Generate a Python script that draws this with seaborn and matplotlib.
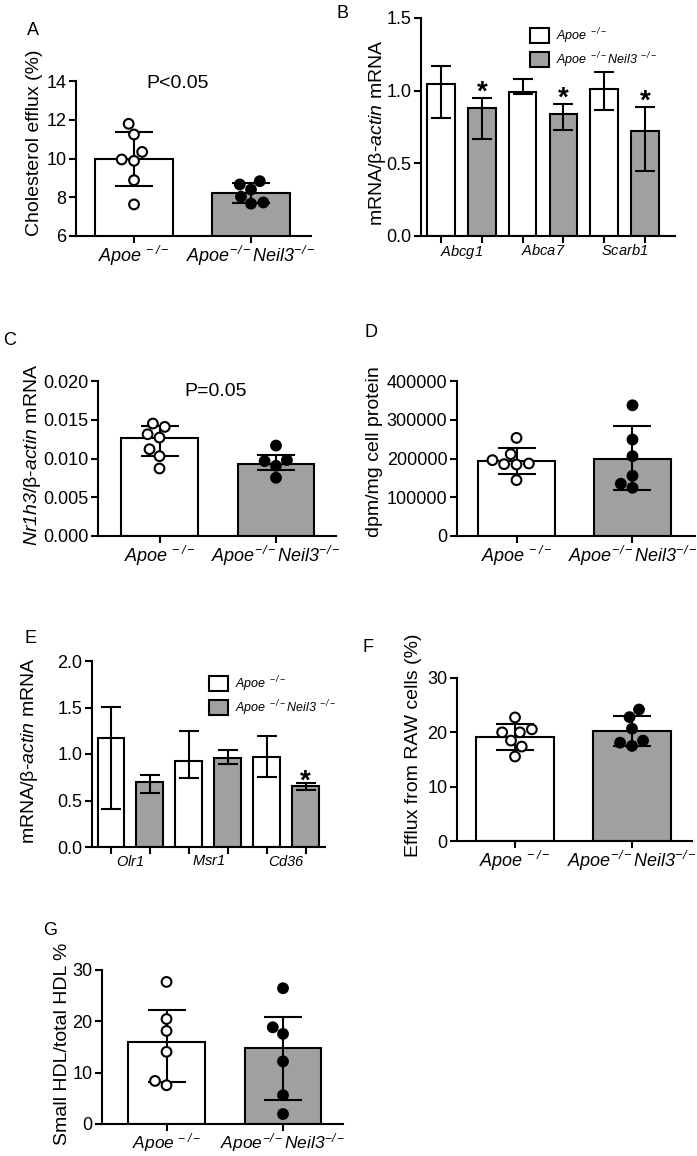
import matplotlib
matplotlib.use("Agg")
import matplotlib.pyplot as plt
import seaborn as sns
import pandas as pd
import numpy as np
from matplotlib.patches import Patch
from matplotlib.ticker import FormatStrFormatter

# ---------------- data ----------------
groups = ["wt", "ko"]
WT_LABEL = r"$\mathit{Apoe}^{\,-/-}$"
KO_LABEL = r"$\mathit{Apoe}^{-/-}\mathit{Neil3}^{-/-}$"
LEG_WT = r"$\mathit{Apoe}^{\ -/-}$"
LEG_KO = r"$\mathit{Apoe}^{\ -/-}\mathit{Neil3}^{\ -/-}$"

# A: cholesterol efflux (%)
a_mean = [9.95, 8.20]
a_lo = [8.58, 7.70]
a_hi = [11.37, 8.72]
a_pts_wt = [11.79, 11.24, 10.34, 9.88, 9.95, 8.88, 7.63]
a_pts_ko = [8.66, 8.83, 8.40, 8.03, 7.67, 7.73]

# B: transporter mRNA
b_genes = ["Abcg1", "Abca7", "Scarb1"]
b_wt_mean = [1.047, 0.992, 1.011]
b_wt_lo = [0.811, 0.974, 0.864]
b_wt_hi = [1.167, 1.082, 1.128]
b_ko_mean = [0.884, 0.841, 0.721]
b_ko_lo = [0.666, 0.726, 0.448]
b_ko_hi = [0.949, 0.905, 0.887]
b_stars = ["*", "*", "*"]

# C: Nr1h3 mRNA
c_mean = [0.01266, 0.00927]
c_lo = [0.0103, 0.0085]
c_hi = [0.01416, 0.01039]
c_pts_wt = [0.01451, 0.01408, 0.0127, 0.01313, 0.0112, 0.0103, 0.00871]
c_pts_ko = [0.01167, 0.00966, 0.00979, 0.00906, 0.00751]

# D: dpm/mg cell protein
d_mean = [193100, 200000]
d_lo = [160500, 118500]
d_hi = [227500, 283300]
d_pts_wt = [253200, 211200, 195700, 184500, 187100, 185400, 144200]
d_pts_ko = [337300, 248900, 206000, 155400, 124500, 134800]

# E: scavenger receptor mRNA
e_genes = ["Olr1", "Msr1", "Cd36"]
e_wt_mean = [1.173, 0.927, 0.970]
e_wt_lo = [0.404, 0.737, 0.748]
e_wt_hi = [1.506, 1.249, 1.191]
e_ko_mean = [0.701, 0.962, 0.658]
e_ko_lo = [0.576, 0.891, 0.612]
e_ko_hi = [0.773, 1.048, 0.690]
e_stars = ["", "", "*"]

# F: efflux from RAW cells (%)
f_mean = [19.21, 20.18]
f_lo = [16.77, 17.56]
f_hi = [21.59, 22.99]
f_pts_wt = [22.74, 20.55, 20.0, 20.0, 18.48, 17.38, 15.55]
f_pts_ko = [24.2, 22.8, 20.67, 18.48, 18.1, 17.5]

# G: small HDL / total HDL %
g_mean = [16.06, 14.71]
g_lo = [8.19, 4.77]
g_hi = [22.26, 20.77]
g_pts_wt = [27.68, 20.45, 18.13, 14.06, 7.55, 8.39]
g_pts_ko = [26.45, 18.84, 17.55, 12.19, 5.61, 1.94]

# ---------------- style ----------------
sns.set_style("ticks")
plt.rcParams.update({
    "font.family": ["Liberation Sans", "DejaVu Sans"],
    "mathtext.fontset": "custom",
    "mathtext.rm": "Liberation Sans:italic",
    "mathtext.it": "Liberation Sans:italic",
    "mathtext.bf": "Liberation Sans:bold",
    "axes.linewidth": 1.5,
    "axes.edgecolor": "black",
    "xtick.color": "black",
    "ytick.color": "black",
    "text.color": "black",
    "axes.labelcolor": "black",
})

GRAY = "#a0a0a0"
W, H = 697, 1156
fig = plt.figure(figsize=(W / 100, H / 100), dpi=100)
fig.patch.set_facecolor("white")


def add_ax(l, t, r, b):
    return fig.add_axes([l / W, 1 - b / H, (r - l) / W, (b - t) / H])


def style_axis(ax, ylim, yticks, fmt, ylabel, lab_xy):
    sns.despine(ax=ax)
    ax.set_ylim(*ylim)
    ax.set_yticks(yticks)
    if fmt:
        ax.yaxis.set_major_formatter(FormatStrFormatter(fmt))
    ax.tick_params(axis="y", direction="out", length=5, width=1.5, labelsize=13, pad=2)
    ax.set_ylabel(ylabel, fontsize=14, va="center")
    ax.yaxis.set_label_coords(*lab_xy)
    ax.set_xlabel("")
    ax.set_facecolor("white")


def two_group(ax, means, lo, hi, pts_wt, pts_ko, xlim, ylim, yticks, fmt, ylabel, lab_xy,
              capsize=14, xfs=13, xpad=1):
    df_bar = pd.DataFrame({"group": groups, "value": means})
    sns.barplot(data=df_bar, x="group", y="value", hue="group", order=groups, hue_order=groups,
                palette={"wt": "white", "ko": GRAY}, edgecolor="black", linewidth=1.5,
                width=0.66, errorbar=None, legend=False, saturation=1, ax=ax)
    centers = [p.get_x() + p.get_width() / 2 for p in ax.patches]
    m = np.array(means, float)
    yerr = [m - np.array(lo, float), np.array(hi, float) - m]
    ax.errorbar(centers, m, yerr=yerr, fmt="none", ecolor="black", elinewidth=1.5,
                capsize=capsize, capthick=1.5, zorder=3)
    df_pts = pd.DataFrame({"group": ["wt"] * len(pts_wt) + ["ko"] * len(pts_ko),
                           "value": list(pts_wt) + list(pts_ko)})
    sns.swarmplot(data=df_pts, x="group", y="value", hue="group", order=groups, hue_order=groups,
                  palette={"wt": "white", "ko": "black"}, edgecolor="black", linewidth=1.5,
                  size=7, legend=False, ax=ax, zorder=4)
    ax.set_xticks(centers)
    ax.set_xticklabels([WT_LABEL, KO_LABEL], fontsize=xfs)
    ax.tick_params(axis="x", direction="out", length=5, width=1.5, pad=xpad)
    ax.set_xlim(*xlim)
    style_axis(ax, ylim, yticks, fmt, ylabel, lab_xy)


def grouped(ax, genes, wt_m, wt_lo, wt_hi, ko_m, ko_lo, ko_hi, stars, xlim, ylim, yticks, ylabel,
            lab_xy, leg_xy, star_off):
    df = pd.DataFrame({"gene": genes * 2, "geno": ["wt"] * len(genes) + ["ko"] * len(genes),
                       "value": list(wt_m) + list(ko_m)})
    sns.barplot(data=df, x="gene", y="value", hue="geno", order=genes, hue_order=groups,
                palette={"wt": "white", "ko": GRAY}, width=1.0, gap=0.32, edgecolor="black",
                linewidth=1.5, errorbar=None, legend=False, saturation=1, ax=ax)
    wt_c = [p.get_x() + p.get_width() / 2 for p in ax.containers[0]]
    ko_c = [p.get_x() + p.get_width() / 2 for p in ax.containers[1]]
    for c, m, lo, hi in ((wt_c, wt_m, wt_lo, wt_hi), (ko_c, ko_m, ko_lo, ko_hi)):
        m = np.array(m, float)
        ax.errorbar(c, m, yerr=[m - np.array(lo, float), np.array(hi, float) - m], fmt="none",
                    ecolor="black", elinewidth=1.5, capsize=7, capthick=1.5, zorder=3)
    for i, s in enumerate(stars):
        if s:
            ax.annotate(s, (ko_c[i], ko_hi[i]), xytext=(0, star_off), textcoords="offset points",
                        ha="center", va="baseline", fontsize=20, fontweight="bold")
    ax.set_xticks(range(len(genes)))
    ax.set_xticklabels([r"$\mathit{%s}$" % g for g in genes], fontsize=10.5)
    ax.tick_params(axis="x", which="major", length=0, pad=5)
    ax.set_xticks(sorted(wt_c + ko_c), minor=True)
    ax.tick_params(axis="x", which="minor", direction="out", length=5, width=1.5)
    ax.set_xlim(*xlim)
    style_axis(ax, ylim, yticks, "%.1f", ylabel, lab_xy)
    handles = [Patch(facecolor="white", edgecolor="black", linewidth=1.5, label=LEG_WT),
               Patch(facecolor=GRAY, edgecolor="black", linewidth=1.5, label=LEG_KO)]
    ax.legend(handles=handles, loc="upper left", bbox_to_anchor=leg_xy, frameon=False,
              fontsize=9, handlelength=1.5, handleheight=1.5, handletextpad=0.6,
              labelspacing=0.35, borderpad=0, borderaxespad=0)


# ---------------- panels ----------------
axA = add_ax(76, 81, 311, 236)
two_group(axA, a_mean, a_lo, a_hi, a_pts_wt, a_pts_ko, (-0.496, 1.513), (6, 14), [6, 8, 10, 12, 14],
          None, "Cholesterol efflux (%)", (-0.1745, 0.60))

axB = add_ax(421, 18, 675, 236)
grouped(axB, b_genes, b_wt_mean, b_wt_lo, b_wt_hi, b_ko_mean, b_ko_lo, b_ko_hi, b_stars,
        (-0.497, 2.62), (0, 1.5), [0, 0.5, 1.0, 1.5], r"mRNA/β-$\mathit{actin}$ mRNA",
        (-0.17, 0.4725), (0.429, 0.963), -1)

axC = add_ax(98, 381, 336, 536)
two_group(axC, c_mean, c_lo, c_hi, c_pts_wt, c_pts_ko, (-0.528, 1.515), (0, 0.02),
          [0, 0.005, 0.010, 0.015, 0.020], "%.3f", r"$\mathit{Nr1h3}$/β-$\mathit{actin}$ mRNA",
          (-0.277, 0.523))

axD = add_ax(457, 381, 695, 536)
two_group(axD, d_mean, d_lo, d_hi, d_pts_wt, d_pts_ko, (-0.513, 1.539), (0, 400000),
          [0, 100000, 200000, 300000, 400000], "%d", "dpm/mg cell protein", (-0.345, 0.542))

axE = add_ax(92, 661, 325, 847)
grouped(axE, e_genes, e_wt_mean, e_wt_lo, e_wt_hi, e_ko_mean, e_ko_lo, e_ko_hi, e_stars,
        (-0.491, 2.5), (0, 2.0), [0, 0.5, 1.0, 1.5, 2.0], r"mRNA/β-$\mathit{actin}$ mRNA",
        (-0.27, 0.52), (0.502, 0.93), -4)

axF = add_ax(457, 678, 692, 841)
two_group(axF, f_mean, f_lo, f_hi, f_pts_wt, f_pts_ko, (-0.496, 1.513), (0, 30), [0, 10, 20, 30],
          None, "Efflux from RAW cells (%)", (-0.187, 0.589))

axG = add_ax(102, 970, 343, 1124)
two_group(axG, g_mean, g_lo, g_hi, g_pts_wt, g_pts_ko, (-0.554, 1.515), (0, 30), [0, 10, 20, 30],
          None, "Small HDL/total HDL %", (-0.162, 0.52), xfs=12.5, xpad=0)

# panel letters
for letter, x, yb in [("A", 27, 35), ("B", 336, 18), ("C", 3, 345), ("D", 365, 337),
                      ("E", 25, 643), ("F", 362, 652), ("G", 43, 935)]:
    fig.text(x / W, 1 - yb / H, letter, fontsize=13, ha="left", va="baseline")

fig.text(178 / W, 1 - 83 / H, "P<0.05", fontsize=14, ha="center", va="center")
fig.text(216 / W, 1 - 392 / H, "P=0.05", fontsize=14, ha="center", va="center")

fig.savefig("out.png", dpi=100, facecolor="white")
